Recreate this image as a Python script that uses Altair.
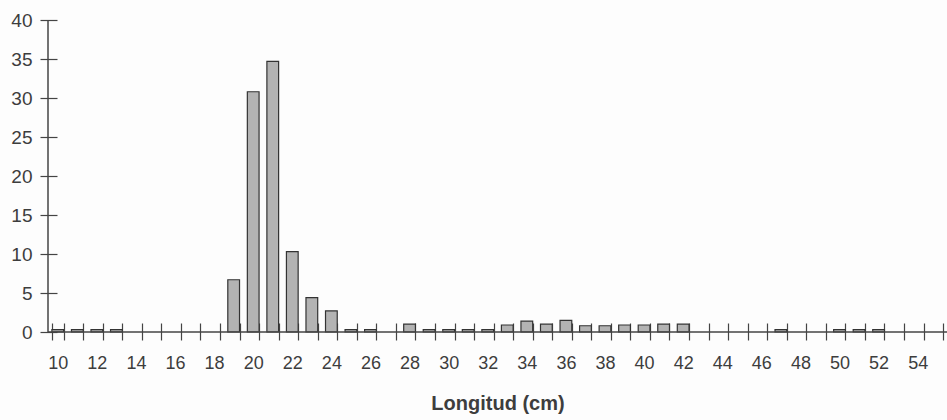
import altair as alt
import pandas as pd

# Longitud (cm) categories 10..55 and percentage values
longitud = list(range(10, 56))
valores = [0.3, 0.3, 0.3, 0.3, 0, 0, 0, 0, 0, 6.7,
           30.8, 34.7, 10.3, 4.4, 2.7, 0.3, 0.3, 0, 1.0, 0.3,
           0.3, 0.3, 0.3, 0.9, 1.4, 1.0, 1.5, 0.8, 0.8, 0.9,
           0.9, 1.0, 1.0, 0, 0, 0, 0, 0.3, 0, 0,
           0.3, 0.3, 0.3, 0, 0, 0]
y_ticks = [0, 5, 10, 15, 20, 25, 30, 35, 40]

df = pd.DataFrame({"long": longitud, "val": valores})

W, H = 899, 312
FONT = "Liberation Sans"
TXT = "#3d3d3d"
LINE = "#444444"

xscale = alt.Scale(domain=longitud, paddingInner=0.4, paddingOuter=0.2)
yscale = alt.Scale(domain=[0, 40], nice=False)

yaxis = alt.Axis(title=None, values=y_ticks, tickCount=20, domain=False, offset=-9,
                 tickSize=17, tickColor=LINE, tickWidth=1.2, labelOverlap=False,
                 labelPadding=8, labelFontSize=19, labelFont=FONT,
                 labelColor=TXT, grid=False)

bars = alt.Chart(df).transform_filter("datum.val > 0").mark_bar(
    fill="#b3b3b3", stroke="#333333", strokeWidth=1.2
).encode(
    x=alt.X("long:O", scale=xscale, sort=None,
            axis=alt.Axis(title="Longitud (cm)", labelAngle=0, tickBand="extent",
                          labelExpr="datum.value % 2 == 0 ? datum.label : ''",
                          domain=False, offset=-9, tickSize=17, tickColor=LINE,
                          tickWidth=1.2, labelPadding=14, labelFontSize=18,
                          labelFont=FONT, labelColor=TXT, titleFont=FONT,
                          titleFontSize=20, titleFontWeight="bold", titleColor=TXT,
                          titlePadding=21, grid=False)),
    y=alt.Y("val:Q", scale=yscale, axis=yaxis),
)

lines_df = pd.DataFrame({"y0": [0], "y1": [40]})
xline = alt.Chart(lines_df).mark_rule(color=LINE, strokeWidth=1.5).encode(
    x=alt.value(0), x2=alt.value(W), y=alt.Y("y0:Q", scale=yscale, axis=yaxis)
)
yline = alt.Chart(lines_df).mark_rule(color=LINE, strokeWidth=1.5).encode(
    x=alt.value(0), y=alt.Y("y0:Q", scale=yscale, axis=yaxis), y2="y1:Q"
)

chart = alt.layer(bars, xline, yline).properties(
    width=W, height=H,
    autosize=alt.AutoSizeParams(type="none"),
    padding={"left": 48, "top": 20, "right": 0, "bottom": 88},
    background="#fdfdfd",
).configure_view(stroke=None)

chart.save("out.html", embed_options={"renderer": "svg", "actions": False})
